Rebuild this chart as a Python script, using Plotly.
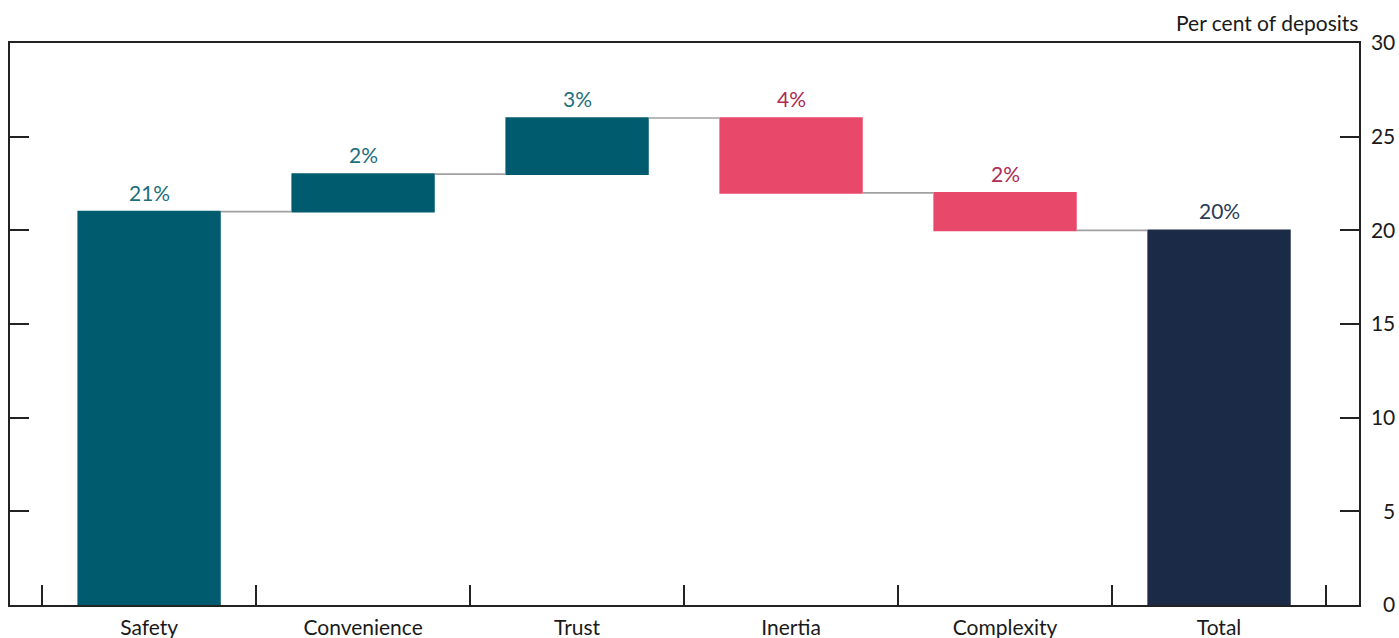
import plotly.graph_objects as go

categories = ["Safety", "Convenience", "Trust", "Inertia", "Complexity", "Total"]
measures = ["relative", "relative", "relative", "relative", "relative", "total"]
values = [21, 2, 3, -4, -2, 0]
labels = ["21%", "2%", "3%", "4%", "2%", "20%"]
y_ticks = [0, 5, 10, 15, 20, 25, 30]

c_inc = "#005B6E"
c_dec = "#E8486A"
c_tot = "#1B2A47"
t_inc = "#1F6E7C"
t_dec = "#B02A52"
t_tot = "#2B3A55"

# compute bar tops from data
tops = []
run = 0
for m, v in zip(measures, values):
    if m == "relative":
        tops.append(max(run, run + v))
        run += v
    else:
        tops.append(run)

text_colors = []
for m, v in zip(measures, values):
    if m == "total":
        text_colors.append(t_tot)
    elif v >= 0:
        text_colors.append(t_inc)
    else:
        text_colors.append(t_dec)

FONT = "Lato"
FS = 21

fig = go.Figure()
fig.add_trace(go.Waterfall(
    x=categories, y=values, measure=measures,
    increasing=dict(marker=dict(color=c_inc)),
    decreasing=dict(marker=dict(color=c_dec)),
    totals=dict(marker=dict(color=c_tot)),
    connector=dict(line=dict(color="#A0A0A0", width=1.6), mode="between"),
    width=0.67,
    textposition="none",
    showlegend=False,
    hoverinfo="skip",
))

annotations = [dict(
    x=c, y=t, xref="x", yref="y", text=lab, showarrow=False,
    xanchor="center", yanchor="bottom", yshift=5,
    font=dict(family=FONT, size=FS, color=col),
) for c, t, lab, col in zip(categories, tops, labels, text_colors)]

annotations.append(dict(
    text="Per cent of deposits", xref="paper", yref="paper",
    x=1.001, y=1, xanchor="right", yanchor="bottom", yshift=6,
    showarrow=False, font=dict(family=FONT, size=FS, color="#1a1a1a"),
))

fig.update_layout(
    width=1399, height=638,
    margin=dict(l=10, r=40, t=43, b=33),
    paper_bgcolor="white", plot_bgcolor="white",
    font=dict(family=FONT, size=FS, color="#1a1a1a"),
    xaxis=dict(
        type="category", range=[-0.65, 5.654], automargin=False,
        tickson="boundaries", ticks="inside", ticklen=20, tickwidth=1.5,
        tickcolor="#222", showline=True, linecolor="#222", linewidth=1.5,
        mirror=True, showgrid=False, zeroline=False,
        tickfont=dict(family=FONT, size=FS, color="#1a1a1a"),
        ticklabelstandoff=3,
    ),
    yaxis=dict(
        side="right", range=[0, 30], tickvals=y_ticks, automargin=False,
        ticktext=[("\u2007" + str(t)) if t < 10 else str(t) for t in y_ticks],
        ticks="inside", ticklen=19, tickwidth=1.5, tickcolor="#222",
        showline=True, linecolor="#222", linewidth=1.5, mirror="allticks",
        showgrid=False, zeroline=False,
        tickfont=dict(family=FONT, size=FS, color="#1a1a1a"),
        ticklabelstandoff=6,
    ),
    annotations=annotations,
)

fig.write_html("out.html")
